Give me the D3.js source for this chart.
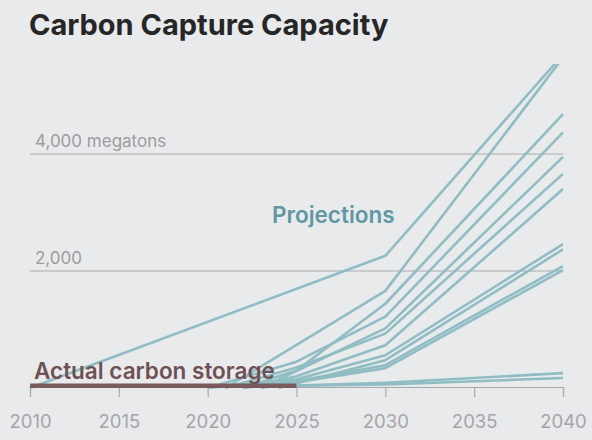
<!DOCTYPE html>
<html>
<head>
<meta charset="utf-8">
<script src="https://cdn.jsdelivr.net/npm/d3@7"></script>
<style>
  body { margin: 0; background: #e9eaec; }
  svg { display: block; font-family: Inter, "Noto Sans", sans-serif; }
</style>
</head>
<body>
<div id="chart"></div>
<script>
/* Carbon capture capacity: actual storage vs projections */

const xTicks = [2010, 2015, 2020, 2025, 2030, 2035, 2040];
const yGrid = [2000, 4000];
const yLabels = ["2,000", "4,000 megatons"];

// actual storage, megatons
const actual = [[2010, 40], [2025, 40]];

// each projection as [year, megatons]
const proj01 = [[2010, 0], [2030, 2260], [2040, 5700]];
const proj02 = [[2021, 0], [2030, 1660], [2040, 5650]];
const proj03 = [[2022, 0], [2025, 300], [2030, 1440], [2040, 4680]];
const proj04 = [[2020, 0], [2025, 450], [2030, 1220], [2040, 4370]];
const proj05 = [[2023, 0], [2030, 1020], [2040, 3950]];
const proj06 = [[2021, 0], [2025, 350], [2030, 930], [2040, 3660]];
const proj07 = [[2022, 0], [2025, 200], [2030, 730], [2040, 3400]];
const proj08 = [[2020, 0], [2025, 150], [2030, 560], [2040, 2460]];
const proj09 = [[2024, 0], [2030, 475], [2040, 2370]];
const proj10 = [[2022, 0], [2025, 120], [2030, 390], [2040, 2085]];
const proj11 = [[2023, 0], [2030, 340], [2040, 2015]];
const proj12 = [[2025, 40], [2030, 90], [2040, 254]];
const proj13 = [[2025, 40], [2030, 60], [2040, 170]];

const projections = [proj01, proj02, proj03, proj04, proj05, proj06, proj07,
                     proj08, proj09, proj10, proj11, proj12, proj13];

const width = 592, height = 440,
    margin = ({top: 64, right: 29, bottom: 52, left: 30});

let svg = d3.select("#chart")
    .append("svg")
    .attr("width", width)
    .attr("height", height)
    .attr("viewBox", [0, 0, width, height]);

const x = d3.scaleLinear()
    .domain([2010, 2040])
    .range([margin.left, width - margin.right]);

const y = d3.scaleLinear()
    .domain([0, 4000])
    .range([height - margin.bottom, 154]);

// title
svg.append("text")
    .attr("x", 29)
    .attr("y", 35)
    .attr("font-size", 29)
    .attr("font-weight", 700)
    .attr("fill", "#262626")
    .text("Carbon Capture Capacity");

// gridlines + labels
svg.selectAll(".grid")
    .data(yGrid)
    .join("line")
    .attr("class", "grid")
    .attr("x1", x(2010))
    .attr("x2", x(2040))
    .attr("y1", d => y(d))
    .attr("y2", d => y(d))
    .attr("stroke", "#a9a9ab")
    .attr("stroke-width", 1.2);

svg.selectAll(".ylab")
    .data(yGrid)
    .join("text")
    .attr("class", "ylab")
    .attr("x", 35)
    .attr("y", d => y(d) - 7)
    .attr("font-size", 17)
    .attr("fill", "#9c9c9e")
    .text((d, i) => yLabels[i]);

// x axis
const xAxis = g => g
    .attr("transform", `translate(0,${y(0) - 1})`)
    .call(d3.axisBottom(x)
        .tickValues(xTicks)
        .tickFormat(d3.format("d"))
        .tickSize(10)
        .tickPadding(18))
    .call(g => g.select(".domain").attr("stroke", "#a9a9ab").attr("stroke-width", 1.2))
    .call(g => g.selectAll(".tick line").attr("stroke", "#a9a9ab").attr("stroke-width", 1.2))
    .call(g => g.selectAll(".tick text")
        .attr("font-size", 18.5)
        .attr("font-family", "Inter, sans-serif")
        .attr("fill", "#a5a5a7"));

svg.append("g").call(xAxis);

// clip the lines at the top of the plot
svg.append("clipPath")
    .attr("id", "plot")
    .append("rect")
    .attr("x", 0)
    .attr("y", margin.top)
    .attr("width", width)
    .attr("height", height - margin.top);

const line = d3.line()
    .x(d => x(d[0]))
    .y(d => y(d[1]));

svg.append("g")
    .attr("clip-path", "url(#plot)")
    .selectAll("path")
    .data(projections)
    .join("path")
    .attr("d", line)
    .attr("fill", "none")
    .attr("stroke", "#8fbdc3")
    .attr("stroke-width", 2.6)
    .attr("stroke-linejoin", "round");

// actual storage bar
svg.append("path")
    .datum(actual)
    .attr("d", line)
    .attr("fill", "none")
    .attr("stroke", "#7a5a5d")
    .attr("stroke-width", 4.5);

svg.append("text")
    .attr("x", 34)
    .attr("y", 379)
    .attr("font-size", 22.5)
    .attr("font-weight", 600)
    .attr("fill", "#6f5053")
    .text("Actual carbon storage");

svg.append("text")
    .attr("x", 272)
    .attr("y", 223)
    .attr("font-size", 22.5)
    .attr("font-weight", 600)
    .attr("fill", "#5f98a3")
    .text("Projections");
</script>
</body>
</html>
